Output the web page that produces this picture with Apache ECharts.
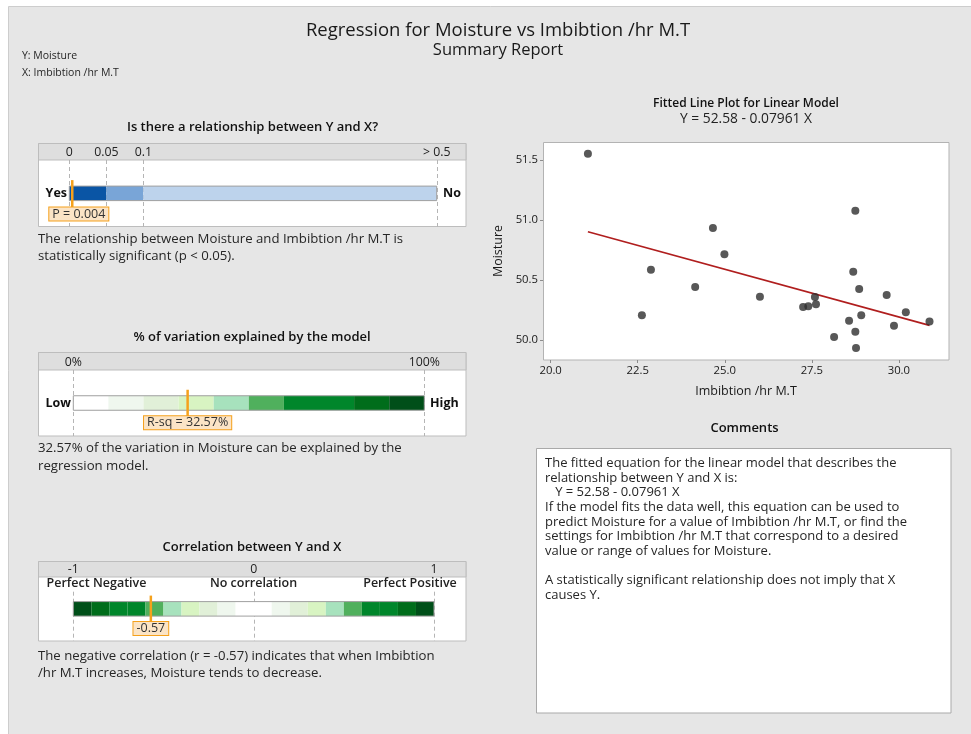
<!DOCTYPE html>
<html><head><meta charset="utf-8">
<script src="https://cdn.jsdelivr.net/npm/echarts@6/dist/echarts.min.js"></script>
<style>html,body{margin:0;padding:0;background:#fff}#c{width:971px;height:734px}</style>
</head><body><div id="c"></div><script>
// ---------------- data ----------------
const imbibition = [21.07,22.62,22.88,24.15,24.66,24.99,26.01,27.25,27.40,27.59,27.62,28.14,28.57,28.69,28.75,28.75,28.77,28.86,28.92,29.65,29.86,30.20,30.88];
const moisture   = [51.553,50.206,50.586,50.442,50.933,50.714,50.361,50.275,50.281,50.358,50.297,50.025,50.161,50.569,51.078,50.069,49.933,50.425,50.206,50.375,50.119,50.231,50.153];
const fitIntercept = 52.58;
const fitSlope = -0.07961;
const xTicks = [20, 22.5, 25, 27.5, 30];
const yTicks = [50, 50.5, 51, 51.5];

const pValue = 0.004;
const pBreaks = [0, 0.05, 0.1, 0.5];
const pTickLabels = ['0', '0.05', '0.1', '> 0.5'];

const rsq = 32.57;
const rsqBreaks = [0,10,20,30,40,50,60,70,80,90,100];
const rsqTicks = [0, 100];
const rsqTickLabels = ['0%', '100%'];

const corr = -0.57;
const corrBreaks = [-1,-0.9,-0.8,-0.7,-0.6,-0.5,-0.4,-0.3,-0.2,-0.1,0,0.1,0.2,0.3,0.4,0.5,0.6,0.7,0.8,0.9,1];
const corrTicks = [-1, 0, 1];
const corrTickLabels = ['-1', '0', '1'];

// ---------------- styles ----------------
const FONT = "'Open Sans', sans-serif";
const TXT = '#262626';
const ORANGE = '#f5a11c';
const pColors = ['#0a55a5', '#79a5d7', '#bdd3ec'];
const greens = ['#ffffff','#eff7ee','#e1f0d8','#d8f4c2','#a7e2bd','#50b05d','#00862b','#00862b','#006d1b','#004f19'];
// nonlinear display scale used by the p-value bar
const pDisplayStops = [0, 1, 2, 9.93];
function pScale(p){
  for (let i = 1; i < pBreaks.length; i++) {
    if (p <= pBreaks[i]) {
      const t = (p - pBreaks[i-1]) / (pBreaks[i] - pBreaks[i-1]);
      return pDisplayStops[i-1] + t * (pDisplayStops[i] - pDisplayStops[i-1]);
    }
  }
  return pDisplayStops[pDisplayStops.length-1];
}

const BAR_H = 14.5;
const LBL_SIZE = 12.5;
const measureCtx = document.createElement('canvas').getContext('2d');
function textW(t, size){ measureCtx.font = size + 'px ' + FONT; return measureCtx.measureText(t).width; }

function txt(x, y, text, o){
  o = o || {};
  return {type:'text', x:x, y:y, z:10, silent:true, style:{
    text:text, fontFamily:FONT, fontSize:o.size||11.5, fontWeight:o.weight||'normal',
    fill:o.color||TXT, align:o.align||'left', verticalAlign:'middle', lineHeight:o.lh||undefined
  }};
}
function rect(x, y, w, h, fill, stroke, z){
  return {type:'rect', z:z, silent:true, shape:{x:x, y:y, width:w, height:h}, style:{fill:fill, stroke:stroke||null, lineWidth:1}};
}

// ---------------- graphic layer ----------------
const fmtEq = 'Y = ' + fitIntercept.toFixed(2) + ' - ' + Math.abs(fitSlope).toFixed(5) + ' X';
const BODY = 13.2;
const graphics = [
  rect(8.5, 6.5, 970, 735, '#e6e6e6', '#cdcdcd', -20),
  txt(498, 31, 'Regression for Moisture vs Imbibtion /hr M.T', {size:18.5, align:'center', color:'#1a1a1a'}),
  txt(498, 50, 'Summary Report', {size:16.5, align:'center', color:'#1a1a1a'}),
  txt(22, 56, 'Y: Moisture', {size:10.5}),
  txt(22, 73, 'X: Imbibtion /hr M.T', {size:10.5}),

  // gauge 1
  txt(252.5, 127, 'Is there a relationship between Y and X?', {size:13, weight:600, align:'center', color:'#111'}),
  rect(38.5, 143.5, 427.5, 83, '#ffffff', '#bdbdbd', -5),
  rect(38.5, 143.5, 427.5, 16.5, '#dedede', '#bdbdbd', -4),
  txt(67, 193.5, 'Yes', {size:12.5, weight:'bold', align:'right', color:'#111'}),
  txt(443, 193.5, 'No', {size:12.5, weight:'bold', color:'#111'}),
  txt(38, 239.5, 'The relationship between Moisture and Imbibtion /hr M.T is\nstatistically significant (p < 0.05).', {size:BODY, lh:16.5}),

  // gauge 2
  txt(252, 337, '% of variation explained by the model', {size:13, weight:600, align:'center', color:'#111'}),
  rect(38.5, 352.5, 427.5, 83.5, '#ffffff', '#bdbdbd', -5),
  rect(38.5, 352.5, 427.5, 17.5, '#dedede', '#bdbdbd', -4),
  txt(71, 403.5, 'Low', {size:12.5, weight:'bold', align:'right', color:'#111'}),
  txt(430, 403.5, 'High', {size:12.5, weight:'bold', color:'#111'}),
  txt(38, 448.5, '32.57% of the variation in Moisture can be explained by the\nregression model.', {size:BODY, lh:17.3}),

  // gauge 3
  txt(252, 547, 'Correlation between Y and X', {size:13, weight:600, align:'center', color:'#111'}),
  rect(38.5, 561.5, 427.5, 79.5, '#ffffff', '#bdbdbd', -5),
  rect(38.5, 561.5, 427.5, 15.5, '#dedede', '#bdbdbd', -4),
  txt(96.5, 583.5, 'Perfect Negative', {size:12.5, weight:600, align:'center', color:'#222'}),
  txt(253.5, 583.5, 'No correlation', {size:12.5, weight:600, align:'center', color:'#222'}),
  txt(410, 583.5, 'Perfect Positive', {size:12.5, weight:600, align:'center', color:'#222'}),
  txt(38, 656, 'The negative correlation (r = -0.57) indicates that when Imbibtion\n/hr M.T increases, Moisture tends to decrease.', {size:BODY, lh:17.3}),

  // fitted line plot
  txt(746, 104, 'Fitted Line Plot for Linear Model', {size:12, weight:600, align:'center', color:'#111'}),
  txt(746, 119, fmtEq, {size:13.8, align:'center', color:'#222'}),
  rect(543.5, 142.5, 405.5, 217.5, '#ffffff', '#b3b3b3', -5),

  // comments
  txt(744.5, 428.5, 'Comments', {size:13, weight:600, align:'center', color:'#111'}),
  rect(536.5, 448.5, 414.5, 264.5, '#ffffff', '#a9a9a9', -5),
  txt(545, 463.5, [
    'The fitted equation for the linear model that describes the',
    'relationship between Y and X is:',
    '   ' + fmtEq,
    'If the model fits the data well, this equation can be used to',
    'predict Moisture for a value of Imbibtion /hr M.T, or find the',
    'settings for Imbibtion /hr M.T that correspond to a desired',
    'value or range of values for Moisture.',
    '',
    'A statistically significant relationship does not imply that X',
    'causes Y.'
  ].join('\n'), {size:13, lh:14.6})
];
// multi-line texts: anchor top line instead of middle
graphics.forEach(g => { if (g.type === 'text' && g.style.text.indexOf('\n') >= 0) { g.style.verticalAlign = 'top'; g.y -= g.style.lineHeight / 2; } });

// ---------------- render helpers ----------------
function segRender(colorOf){
  return function(params, api){
    const cs = params.coordSys;
    const cy = cs.y + cs.height / 2;
    const a = api.coord([api.value(0), 0.5])[0];
    const b = api.coord([api.value(1), 0.5])[0];
    return {type:'rect', shape:{x:a, y:cy - BAR_H/2, width:b - a, height:BAR_H},
      style:{fill: colorOf(api.value(0), api.value(1), params.dataIndex), stroke:null}};
  };
}
function outlineRender(params, api){
  const cs = params.coordSys;
  const cy = cs.y + cs.height / 2;
  const a = api.coord([api.value(0), 0.5])[0];
  const b = api.coord([api.value(1), 0.5])[0];
  return {type:'rect', shape:{x:a, y:cy - BAR_H/2, width:b - a, height:BAR_H},
    style:{fill:null, stroke:'#9f9f9f', lineWidth:1}};
}
function dashRender(topPad){
  return function(params, api){
    const cs = params.coordSys;
    const x = Math.round(api.coord([api.value(0), 0.5])[0]) + 0.5;
    return {type:'line', shape:{x1:x, y1:cs.y + topPad, x2:x, y2:cs.y + cs.height},
      style:{stroke:'#b5b5b5', lineWidth:1, lineDash:[4,3]}};
  };
}
function markerRender(label, gap, minLeftPad){
  return function(params, api){
    const cs = params.coordSys;
    const cy = cs.y + cs.height / 2;
    const x = api.coord([api.value(0), 0.5])[0];
    const top = cy - BAR_H/2 - 6;
    const lblTop = cy + BAR_H/2 + gap;
    const w = textW(label, LBL_SIZE) + 6;
    let left = x - w/2;
    if (minLeftPad != null) left = Math.max(left, cs.x - minLeftPad);
    return {type:'group', children:[
      {type:'line', shape:{x1:x, y1:top, x2:x, y2:lblTop}, style:{stroke:ORANGE, lineWidth:2.5}},
      {type:'text', x:left, y:lblTop, style:{text:label, fontFamily:FONT, fontSize:LBL_SIZE, fill:'#333',
        align:'left', verticalAlign:'top', backgroundColor:'#fbe4c6', borderColor:ORANGE, borderWidth:1, padding:[0,3,0,3], lineHeight:13}}
    ]};
  };
}
function gaugeXAxis(grid, min, max, tickVals, labels, margin){
  return {type:'value', gridIndex:grid, min:min, max:max, position:'top',
    axisLine:{show:false}, axisTick:{show:false}, splitLine:{show:false},
    axisLabel:{customValues:tickVals, margin:margin, fontFamily:FONT, fontSize:12.3, color:'#222',
      formatter:function(v){ for (let i=0;i<tickVals.length;i++){ if (Math.abs(tickVals[i]-v) < 1e-6) return labels[i]; } return ''; }}};
}
function hiddenY(grid){ return {type:'value', gridIndex:grid, min:0, max:1, show:false}; }
function segData(breaks){ const d=[]; for (let i=0;i<breaks.length-1;i++) d.push([breaks[i], breaks[i+1]]); return d; }

const pTickVals = pBreaks.map(pScale);
const fitX = [Math.min.apply(null, imbibition), Math.max.apply(null, imbibition)];

const option = {
  animation:false,
  backgroundColor:'#ffffff',
  textStyle:{fontFamily:FONT},
  graphic:{elements:graphics},
  grid:[
    {left:543, top:142, width:406, height:218, outerBoundsMode:'none', containLabel:false},
    {left:69.3, top:160, width:367.4, height:66.7, outerBoundsMode:'none', containLabel:false},
    {left:73.3, top:370, width:351, height:66, outerBoundsMode:'none', containLabel:false},
    {left:73.3, top:576.7, width:360.7, height:64.3, outerBoundsMode:'none', containLabel:false}
  ],
  xAxis:[
    {type:'value', gridIndex:0, min:19.78, max:31.44,
      axisLine:{show:false}, splitLine:{show:false},
      axisTick:{show:true, customValues:xTicks, length:3, lineStyle:{color:'#8c8c8c'}},
      axisLabel:{customValues:xTicks, margin:5, fontFamily:FONT, fontSize:11.3, color:'#1a1a1a', formatter:v=>v.toFixed(1)},
      name:'Imbibtion /hr M.T', nameLocation:'middle', nameGap:25,
      nameTextStyle:{fontFamily:FONT, fontSize:12.5, color:'#1a1a1a'}},
    gaugeXAxis(1, 0, pDisplayStops[pDisplayStops.length-1], pTickVals, pTickLabels, 2),
    gaugeXAxis(2, rsqBreaks[0], rsqBreaks[rsqBreaks.length-1], rsqTicks, rsqTickLabels, 2),
    gaugeXAxis(3, corrBreaks[0], corrBreaks[corrBreaks.length-1], corrTicks, corrTickLabels, 1)
  ],
  yAxis:[
    {type:'value', gridIndex:0, min:49.833, max:51.65,
      axisLine:{show:false}, splitLine:{show:false},
      axisTick:{show:true, customValues:yTicks, length:3, lineStyle:{color:'#8c8c8c'}},
      axisLabel:{customValues:yTicks, margin:5, fontFamily:FONT, fontSize:11.3, color:'#1a1a1a', formatter:v=>v.toFixed(1)},
      name:'Moisture', nameLocation:'middle', nameGap:38,
      nameTextStyle:{fontFamily:FONT, fontSize:12.5, color:'#1a1a1a'}},
    hiddenY(1), hiddenY(2), hiddenY(3)
  ],
  series:[
    {type:'line', xAxisIndex:0, yAxisIndex:0, data:fitX.map(x=>[x, fitIntercept + fitSlope*x]),
      symbol:'none', lineStyle:{color:'#b01e1e', width:1.6}, z:2, silent:true},
    {type:'scatter', xAxisIndex:0, yAxisIndex:0, data:imbibition.map((x,i)=>[x, moisture[i]]),
      symbolSize:8, itemStyle:{color:'#2e2e2e'}, z:3, silent:true},

    // gauge 1: p-value
    {type:'custom', xAxisIndex:1, yAxisIndex:1, data:pTickVals.map(v=>[v]), renderItem:dashRender(0), z:1, silent:true},
    {type:'custom', xAxisIndex:1, yAxisIndex:1, data:segData(pBreaks).map(s=>[pScale(s[0]), pScale(s[1])]),
      renderItem:segRender((a,b,i)=>pColors[i]), z:2, silent:true},
    {type:'custom', xAxisIndex:1, yAxisIndex:1, data:[[pScale(pBreaks[0]), pScale(pBreaks[pBreaks.length-1])]], renderItem:outlineRender, z:3, silent:true},
    {type:'custom', xAxisIndex:1, yAxisIndex:1, data:[[pScale(pValue)]], renderItem:markerRender('P = ' + pValue.toFixed(3), 7, 20), z:4, silent:true},

    // gauge 2: R-sq
    {type:'custom', xAxisIndex:2, yAxisIndex:2, data:rsqTicks.map(v=>[v]), renderItem:dashRender(0), z:1, silent:true},
    {type:'custom', xAxisIndex:2, yAxisIndex:2, data:segData(rsqBreaks),
      renderItem:segRender((a,b)=>greens[Math.min(9, Math.floor((a+b)/2/10))]), z:2, silent:true},
    {type:'custom', xAxisIndex:2, yAxisIndex:2, data:[[rsqBreaks[0], rsqBreaks[rsqBreaks.length-1]]], renderItem:outlineRender, z:3, silent:true},
    {type:'custom', xAxisIndex:2, yAxisIndex:2, data:[[rsq]], renderItem:markerRender('R-sq = ' + rsq.toFixed(2) + '%', 6, null), z:4, silent:true},

    // gauge 3: correlation
    {type:'custom', xAxisIndex:3, yAxisIndex:3, data:corrTicks.map(v=>[v]), renderItem:dashRender(15), z:1, silent:true},
    {type:'custom', xAxisIndex:3, yAxisIndex:3, data:segData(corrBreaks),
      renderItem:segRender((a,b)=>greens[Math.min(9, Math.floor(Math.abs((a+b)/2)*10))]), z:2, silent:true},
    {type:'custom', xAxisIndex:3, yAxisIndex:3, data:[[corrBreaks[0], corrBreaks[corrBreaks.length-1]]], renderItem:outlineRender, z:3, silent:true},
    {type:'custom', xAxisIndex:3, yAxisIndex:3, data:[[corr]], renderItem:markerRender(corr.toFixed(2), 6, null), z:4, silent:true}
  ]
};
const chart = echarts.init(document.getElementById('c'), null, {renderer:'canvas'});
chart.setOption(option);
</script></body></html>
